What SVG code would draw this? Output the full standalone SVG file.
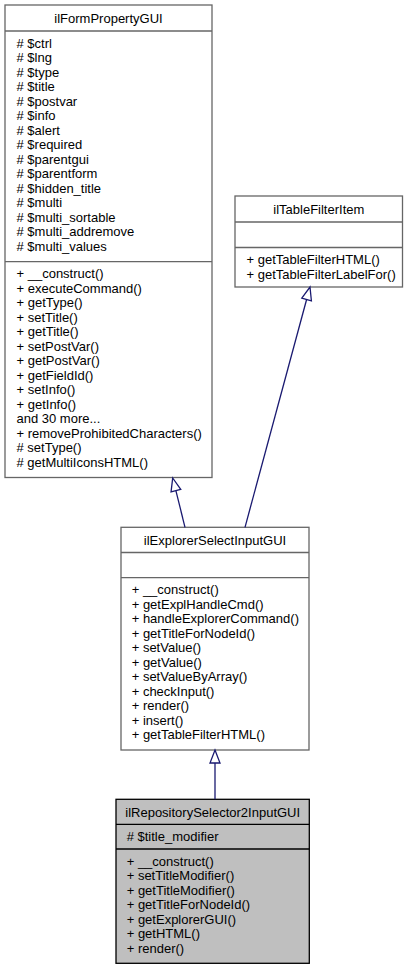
<svg xmlns="http://www.w3.org/2000/svg" width="413" height="969" viewBox="0 0 413 969">
<style>
text{font-family:"Liberation Sans",Arial,sans-serif;font-size:13px;fill:#000}
.t{text-anchor:middle}
.box{fill:#fff;stroke:#666;stroke-width:1.3}
.cur{fill:#bfbfbf;stroke:#000;stroke-width:1.3}
.sep{stroke:#666;stroke-width:1.3}
.sepc{stroke:#000;stroke-width:1.3}
.edge{fill:none;stroke:#191970;stroke-width:1.3}
.head{fill:#fff;stroke:#191970;stroke-width:1.3}
</style>
<rect width="413" height="969" fill="#fff"/>
<g id="ilFormPropertyGUI">
<rect class="box" x="5" y="5" width="207" height="472.5"/>
<line class="sep" x1="5" y1="31" x2="212" y2="31"/>
<line class="sep" x1="5" y1="261.7" x2="212" y2="261.7"/>
<text class="t" x="108.5" y="22.5">ilFormPropertyGUI</text>
<text x="16.5" y="47.5"><tspan x="16.5">#  $ctrl</tspan><tspan x="16.5" dy="14.5"># $lng</tspan><tspan x="16.5" dy="14.5"># $type</tspan><tspan x="16.5" dy="14.5"># $title</tspan><tspan x="16.5" dy="14.5"># $postvar</tspan><tspan x="16.5" dy="14.5"># $info</tspan><tspan x="16.5" dy="14.5"># $alert</tspan><tspan x="16.5" dy="14.5"># $required</tspan><tspan x="16.5" dy="14.5"># $parentgui</tspan><tspan x="16.5" dy="14.5"># $parentform</tspan><tspan x="16.5" dy="14.5"># $hidden_title</tspan><tspan x="16.5" dy="14.5"># $multi</tspan><tspan x="16.5" dy="14.5"># $multi_sortable</tspan><tspan x="16.5" dy="14.5"># $multi_addremove</tspan><tspan x="16.5" dy="14.5"># $multi_values</tspan></text>
<text x="16.5" y="278"><tspan x="16.5">+ __construct()</tspan><tspan x="16.5" dy="14.5">+ executeCommand()</tspan><tspan x="16.5" dy="14.5">+ getType()</tspan><tspan x="16.5" dy="14.5">+ setTitle()</tspan><tspan x="16.5" dy="14.5">+ getTitle()</tspan><tspan x="16.5" dy="14.5">+ setPostVar()</tspan><tspan x="16.5" dy="14.5">+ getPostVar()</tspan><tspan x="16.5" dy="14.5">+ getFieldId()</tspan><tspan x="16.5" dy="14.5">+ setInfo()</tspan><tspan x="16.5" dy="14.5">+ getInfo()</tspan><tspan x="16.5" dy="14.5">and 30 more...</tspan><tspan x="16.5" dy="14.5">+ removeProhibitedCharacters()</tspan><tspan x="16.5" dy="14.5"># setType()</tspan><tspan x="16.5" dy="14.5"># getMultiIconsHTML()</tspan></text>
</g>
<g id="ilTableFilterItem">
<rect class="box" x="235" y="196" width="167.5" height="91"/>
<line class="sep" x1="235" y1="222" x2="402.5" y2="222"/>
<line class="sep" x1="235" y1="247.5" x2="402.5" y2="247.5"/>
<text class="t" x="318.8" y="213.5">ilTableFilterItem</text>
<text x="246.5" y="264"><tspan x="246.5">+ getTableFilterHTML()</tspan><tspan x="246.5" dy="14.5">+ getTableFilterLabelFor()</tspan></text>
</g>
<g id="ilExplorerSelectInputGUI">
<rect class="box" x="121" y="527.3" width="188" height="222.7"/>
<line class="sep" x1="121" y1="552.5" x2="309" y2="552.5"/>
<line class="sep" x1="121" y1="577.7" x2="309" y2="577.7"/>
<text class="t" x="215" y="544.5">ilExplorerSelectInputGUI</text>
<text x="131.7" y="594"><tspan x="131.7">+ __construct()</tspan><tspan x="131.7" dy="14.5">+ getExplHandleCmd()</tspan><tspan x="131.7" dy="14.5">+ handleExplorerCommand()</tspan><tspan x="131.7" dy="14.5">+ getTitleForNodeId()</tspan><tspan x="131.7" dy="14.5">+ setValue()</tspan><tspan x="131.7" dy="14.5">+ getValue()</tspan><tspan x="131.7" dy="14.5">+ setValueByArray()</tspan><tspan x="131.7" dy="14.5">+ checkInput()</tspan><tspan x="131.7" dy="14.5">+ render()</tspan><tspan x="131.7" dy="14.5">+ insert()</tspan><tspan x="131.7" dy="14.5">+ getTableFilterHTML()</tspan></text>
</g>
<g id="ilRepositorySelector2InputGUI">
<rect class="cur" x="116" y="799.3" width="193.3" height="164"/>
<line class="sepc" x1="116" y1="824.3" x2="309.3" y2="824.3"/>
<line class="sepc" x1="116" y1="849" x2="309.3" y2="849"/>
<text class="t" x="212.7" y="816.5">ilRepositorySelector2InputGUI</text>
<text x="126.7" y="840.5"># $title_modifier</text>
<text x="126.7" y="865.5"><tspan x="126.7">+ __construct()</tspan><tspan x="126.7" dy="14.5">+ setTitleModifier()</tspan><tspan x="126.7" dy="14.5">+ getTitleModifier()</tspan><tspan x="126.7" dy="14.5">+ getTitleForNodeId()</tspan><tspan x="126.7" dy="14.5">+ getExplorerGUI()</tspan><tspan x="126.7" dy="14.5">+ getHTML()</tspan><tspan x="126.7" dy="14.5">+ render()</tspan></text>
</g>
<g id="connectors">
<path class="edge" d="M185,527.3 L175.9,490.6"/>
<polygon class="head" points="172.7,478 180.75,489.4 171.05,491.8"/>
<path class="edge" d="M245,527.3 L306.6,299.5"/>
<polygon class="head" points="310,287 311.4,300.8 301.8,298.2"/>
<path class="edge" d="M215,799.3 L215,763"/>
<polygon class="head" points="215,750 220,763 210,763"/>
</g>
</svg>
